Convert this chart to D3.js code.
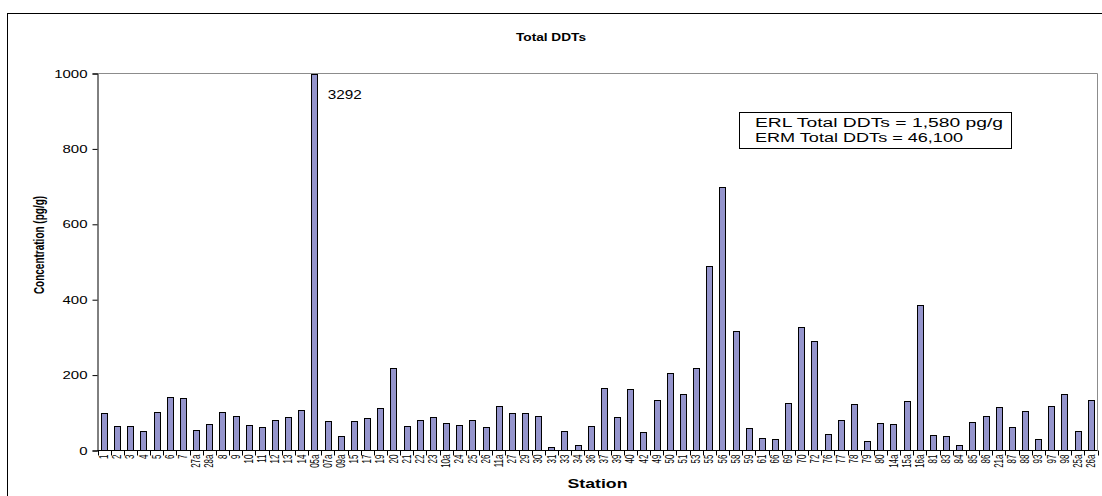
<!DOCTYPE html>
<html>
<head>
<meta charset="utf-8">
<script src="https://cdn.jsdelivr.net/npm/d3@7"></script>
<style>
  html, body { margin: 0; padding: 0; background: #fff; }
  svg { display: block; font-family: "Liberation Sans", Arial, sans-serif; }
</style>
</head>
<body>
<svg id="chart" width="1102" height="496"></svg>
<script>
// Station identifiers, in sampling order
const stations = ["1","2","3","4","5","6","7","27a","28a","8","9","10","11","12","13","14",
  "05a","07a","09a","15","17","19","20","21","22","23","10a","24","25","26","11a","27",
  "29","30","31","33","34","36","37","39","40","42","49","50","51","53","55","56","58",
  "59","61","66","69","70","72","76","77","78","79","80","14a","15a","16a","81","83",
  "84","85","86","21a","87","88","93","97","98","25a","26a"];

// Total DDT concentration (pg/g) per station
const totalDDT = [100,66,66,53,103,142,139,55,70,103,92,68,63,82,90,108,
  3292,78,38,79,87,114,219,65,81,88,73,67,82,63,118,100,
  100,91,9,52,15,64,166,89,163,49,135,206,150,218,490,700,316,
  61,33,31,126,328,290,45,80,123,26,74,71,132,386,42,38,
  15,75,92,116,63,106,31,119,149,51,133];

const yTicks = [0, 200, 400, 600, 800, 1000];
const guidelines = ["ERL Total DDTs = 1,580 pg/g", "ERM Total DDTs = 46,100"];

const svg = d3.select("#chart");
const W = 1102, H = 496;
const SX = 1.5; // horizontal stretch of the lettering
const plot = { left: 97.5, right: 1097.5, top: 73.5, bottom: 450.5 };

// Chart frame
svg.append("rect")
  .attr("x", 7.5).attr("y", 13.5)
  .attr("width", W + 20).attr("height", H + 20)
  .attr("fill", "#fff").attr("stroke", "#000").attr("stroke-width", 1);

const x = d3.scaleBand().domain(stations).range([plot.left, plot.right]).paddingInner(0.52).paddingOuter(0.26);
const y = d3.scaleLinear().domain([0, 1000]).range([plot.bottom, plot.top]);

// Plot area outline (top and right)
svg.append("path")
  .attr("d", `M${plot.left},${plot.top}H${plot.right}V${plot.bottom}`)
  .attr("fill", "none").attr("stroke", "#8c8c8c").attr("stroke-width", 1);

// Bars, clipped at the axis maximum
svg.append("clipPath").attr("id", "plotClip")
  .append("rect").attr("x", plot.left).attr("y", plot.top - 0.5)
  .attr("width", plot.right - plot.left).attr("height", plot.bottom - plot.top + 1);

svg.append("g").attr("clip-path", "url(#plotClip)")
  .selectAll("rect").data(stations).join("rect")
  .attr("x", d => Math.round(x(d)) + 0.5)
  .attr("y", (d, i) => Math.round(y(Math.min(totalDDT[i], 1000))) + 0.5)
  .attr("width", Math.round(x.bandwidth()))
  .attr("height", (d, i) => Math.round(plot.bottom) - Math.round(y(Math.min(totalDDT[i], 1000))))
  .attr("fill", "#9494cc").attr("stroke", "#000").attr("stroke-width", 1);

// Y axis
const yAxis = svg.append("g").attr("transform", `translate(${plot.left},0)`)
  .call(d3.axisLeft(y).tickValues(yTicks).tickSize(5).tickPadding(5).tickFormat(d3.format("d")));
yAxis.select(".domain").attr("stroke", "#000");
yAxis.selectAll(".tick line").attr("stroke", "#000");
yAxis.selectAll(".tick text")
  .attr("font-size", 10).attr("fill", "#000")
  .attr("font-family", "'Liberation Sans', Arial, sans-serif")
  .attr("transform", `scale(${SX},1)`)
  .attr("x", -10 / SX).attr("dy", "0.36em");

// X axis: category dividers and rotated station labels
const xAxis = svg.append("g").attr("transform", `translate(0,${plot.bottom})`)
  .call(d3.axisBottom(x).tickSize(0).tickPadding(0));
xAxis.select(".domain").remove();
xAxis.selectAll(".tick text")
  .attr("font-size", 8).attr("fill", "#000")
  .attr("font-family", "'Liberation Sans', Arial, sans-serif")
  .attr("text-anchor", "end")
  .attr("x", 0).attr("y", 0).attr("dy", "0.34em")
  .attr("transform", `translate(0,4) scale(${SX},1) rotate(-90)`);

svg.append("line").attr("x1", plot.left).attr("x2", plot.right)
  .attr("y1", plot.bottom).attr("y2", plot.bottom).attr("stroke", "#000");
svg.append("g").selectAll("line").data(d3.range(stations.length + 1)).join("line")
  .attr("x1", i => Math.round(plot.left + i * x.step()) + 0.5)
  .attr("x2", i => Math.round(plot.left + i * x.step()) + 0.5)
  .attr("y1", plot.bottom).attr("y2", plot.bottom + 5)
  .attr("stroke", "#000");

// Titles
svg.append("text").attr("x", 551).attr("y", 41).attr("text-anchor", "middle")
  .attr("font-size", 11).attr("font-weight", "bold")
  .attr("textLength", 70).attr("lengthAdjust", "spacingAndGlyphs")
  .text("Total DDTs");
svg.append("text").attr("x", (plot.left + plot.right) / 2).attr("y", 488).attr("text-anchor", "middle")
  .attr("font-size", 12).attr("font-weight", "bold")
  .attr("textLength", 60).attr("lengthAdjust", "spacingAndGlyphs")
  .text("Station");
svg.append("text")
  .attr("transform", `translate(38.5,245) scale(${SX},1) rotate(-90)`)
  .attr("text-anchor", "middle").attr("dy", "0.35em")
  .attr("font-size", 10).attr("font-weight", "bold")
  .text("Concentration (pg/g)");

// Value of the off-scale bar
const peakValue = d3.max(totalDDT);
const peak = stations[totalDDT.indexOf(peakValue)];
svg.append("text").attr("x", x(peak) + x.bandwidth() + 10).attr("y", 99)
  .attr("font-size", 12).attr("textLength", 34).attr("lengthAdjust", "spacingAndGlyphs")
  .text(peakValue);

// Sediment guideline box
svg.append("rect").attr("x", 739.5).attr("y", 112.5).attr("width", 272).attr("height", 36)
  .attr("fill", "#fff").attr("stroke", "#000");
svg.append("g").selectAll("text").data(guidelines).join("text")
  .attr("x", 755).attr("y", (d, i) => 127 + i * 14.5)
  .attr("font-size", 12.5)
  .attr("textLength", (d, i) => i === 0 ? 248 : 208)
  .attr("lengthAdjust", "spacingAndGlyphs")
  .text(d => d);
</script>
</body>
</html>
